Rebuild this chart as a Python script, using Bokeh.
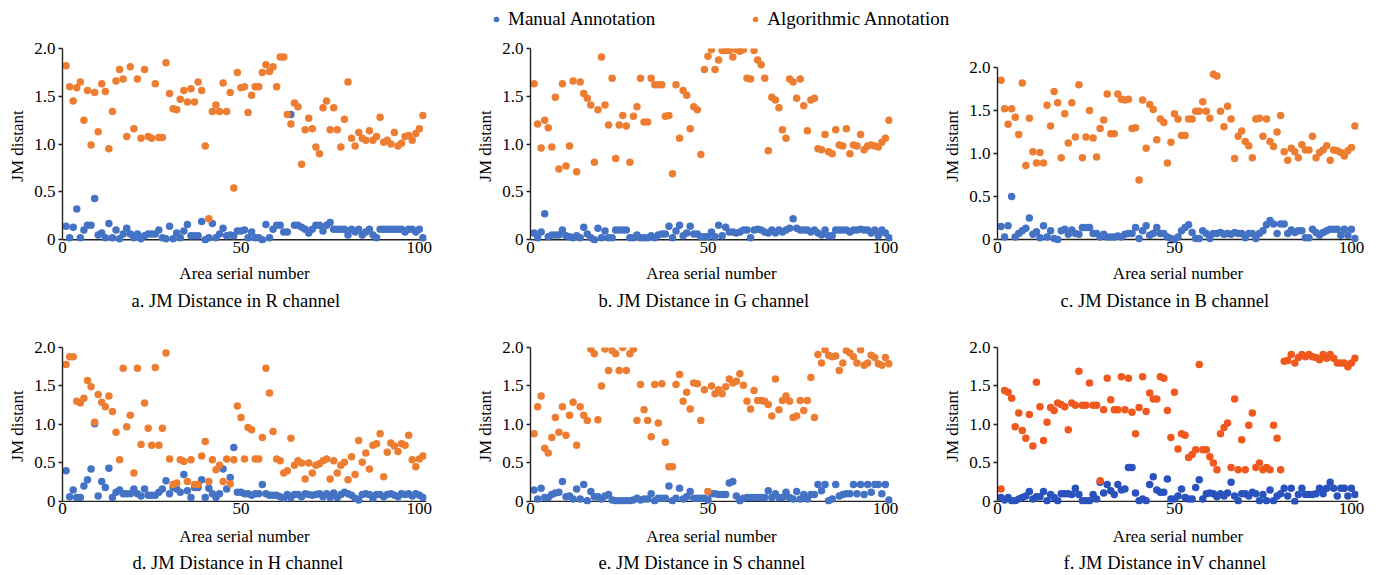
from bokeh.plotting import figure
from bokeh.layouts import column, row
from bokeh.models import Range1d, Legend, LegendItem, FixedTicker, Span
from bokeh.embed import file_html
from bokeh.resources import INLINE

# ---------------- data ----------------
a_orange = [1.82,1.60,1.45,1.59,1.65,1.25,1.56,0.99,1.54,1.13,
            1.63,1.55,0.95,1.34,1.66,1.78,1.68,1.08,1.81,1.16,
            1.68,1.06,1.78,1.08,1.06,1.63,1.07,1.07,1.85,1.53,
            1.37,1.36,1.47,1.56,1.44,1.58,1.44,1.65,1.56,0.98,
            0.22,1.34,1.41,1.34,1.64,1.34,1.54,0.54,1.75,1.59,
            1.60,1.33,1.51,1.60,1.60,1.75,1.83,1.76,1.81,1.60,
            1.91,1.91,1.31,1.21,1.43,1.39,0.79,1.15,1.27,1.16,
            0.97,0.90,1.38,1.45,1.15,1.38,1.15,0.97,1.26,1.65,
            1.06,0.98,1.12,1.06,1.04,1.14,1.04,1.08,1.28,1.02,
            1.04,1.00,1.12,0.98,1.01,1.08,1.09,1.04,1.11,1.16,
            1.30]
a_blue = [0.14,0.02,0.13,0.32,0.02,0.10,0.15,0.15,0.43,0.05,
          0.07,0.02,0.17,0.02,0.10,0.01,0.06,0.12,0.06,0.02,
          0.06,0.01,0.04,0.06,0.06,0.06,0.10,0.02,0.01,0.14,
          0.01,0.07,0.02,0.09,0.16,0.04,0.04,0.04,0.19,0.00,
          0.02,0.17,0.02,0.06,0.12,0.04,0.05,0.04,0.09,0.09,
          0.10,0.02,
          0.08,0.02,0.02,0.00,0.16,0.02,0.11,0.15,0.15,0.08,
          0.08,1.31,0.15,0.15,0.13,0.11,0.07,0.11,0.15,0.15,
          0.09,0.15,0.18,0.11,0.11,0.11,0.11,0.05,0.11,0.08,
          0.11,0.05,0.08,0.11,0.05,0.02,0.11,0.11,0.11,0.11,
          0.11,0.11,0.11,0.08,0.11,0.11,0.08,0.11,0.02]

b_orange = [1.63,1.21,0.96,1.25,1.17,0.97,1.49,0.74,1.63,0.77,
            0.98,1.66,0.71,1.65,1.53,1.48,1.41,0.81,1.36,1.91,
            1.41,1.20,1.69,0.85,1.20,1.30,1.19,0.81,1.29,1.39,
            1.69,1.23,1.23,1.69,1.62,1.62,1.62,1.29,1.30,0.69,
            1.62,1.06,1.56,1.51,1.16,1.39,1.36,0.89,1.78,1.92,
            1.99,1.78,1.88,
            1.98,1.98,1.98,1.91,1.99,1.97,1.99,1.69,1.68,1.98,
            1.88,1.83,1.69,0.93,1.49,1.46,1.38,1.15,1.06,1.68,
            1.65,1.48,1.68,1.40,1.14,1.46,1.48,0.95,0.94,1.10,
            0.92,0.90,1.15,0.99,0.98,1.16,0.90,0.99,0.98,1.10,
            0.94,0.98,0.99,0.98,0.97,1.02,1.06,1.25]
b_blue = [0.07,0.02,0.08,0.27,0.03,0.05,0.05,0.05,0.10,0.04,
          0.03,0.02,0.04,0.02,0.13,0.06,0.02,0.00,0.12,0.02,
          0.09,0.02,0.02,0.10,0.10,0.10,0.10,0.02,0.02,0.05,
          0.02,0.02,0.02,0.04,0.02,0.05,0.06,0.06,0.14,0.02,
          0.09,0.15,0.04,0.07,0.14,0.06,0.06,0.03,0.03,0.03,
          0.08,0.03,0.15,
          0.04,0.13,0.08,0.08,0.07,0.08,0.10,0.10,0.02,0.10,
          0.11,0.10,0.08,0.07,0.10,0.07,0.10,0.08,0.10,0.12,
          0.22,0.12,0.10,0.10,0.10,0.08,0.10,0.07,0.05,0.10,
          0.04,0.04,0.10,0.10,0.10,0.10,0.08,0.10,0.10,0.11,
          0.10,0.10,0.07,0.10,0.04,0.10,0.07,0.02]

c_orange = [1.85,1.52,1.34,1.52,1.42,1.22,1.82,0.86,1.41,1.02,
            0.89,1.01,0.89,1.56,1.32,1.72,1.59,0.95,1.46,1.12,
            1.59,1.19,1.80,0.95,1.19,1.50,1.18,0.96,1.29,1.39,
            1.69,1.23,1.23,1.69,1.63,1.62,1.63,1.29,1.30,0.69,
            1.62,1.06,1.57,1.51,1.16,1.40,1.36,0.89,1.13,1.46,
            1.40,1.21,
            1.21,1.40,1.40,1.49,1.49,1.60,1.49,1.41,1.92,1.90,
            1.49,1.31,1.55,1.40,0.94,1.20,1.26,1.14,1.09,0.95,
            1.40,1.41,1.20,1.40,1.14,1.08,1.25,1.44,1.02,0.92,
            1.06,1.02,0.95,1.10,1.04,1.04,1.20,0.95,1.01,1.04,
            1.09,0.92,1.04,1.03,1.01,0.97,1.03,1.07,1.32]
c_blue = [0.15,0.03,0.16,0.50,0.03,0.07,0.10,0.13,0.25,0.06,
          0.09,0.02,0.16,0.03,0.10,0.01,0.00,0.10,0.12,0.06,
          0.11,0.07,0.06,0.14,0.14,0.14,0.07,0.07,0.03,0.06,
          0.03,0.03,0.03,0.04,0.03,0.06,0.07,0.07,0.14,0.01,
          0.10,0.16,0.05,0.07,0.14,0.07,0.07,0.03,0.01,0.00,
          0.03,0.10,
          0.14,0.17,0.08,0.01,0.01,0.10,0.07,0.01,0.07,0.07,
          0.08,0.06,0.07,0.06,0.08,0.07,0.07,0.02,0.07,0.07,
          0.01,0.07,0.10,0.17,0.22,0.18,0.07,0.18,0.18,0.07,
          0.11,0.08,0.10,0.10,0.02,0.02,0.12,0.08,0.05,0.08,
          0.10,0.12,0.12,0.12,0.05,0.12,0.05,0.12,0.01]

d_orange = [1.78,1.88,1.88,1.30,1.28,1.34,1.57,1.49,1.03,1.39,
            1.29,1.23,1.37,1.17,0.90,0.54,1.73,0.97,1.12,0.37,
            1.73,0.74,1.28,0.95,0.73,1.74,0.73,0.95,1.93,0.55,
            0.22,0.24,0.54,0.52,0.26,0.54,0.22,0.22,0.59,0.78,
            0.26,0.54,0.41,0.47,0.26,0.55,0.23,0.54,1.24,1.09,
            0.55,0.96,0.93,0.55,0.55,0.83,1.73,1.41,0.91,0.55,
            0.53,0.37,0.40,0.82,0.47,0.53,0.50,0.29,0.50,0.37,
            0.47,0.49,0.53,0.55,0.29,0.53,0.37,0.47,0.51,0.28,
            0.58,0.35,0.79,0.51,0.63,0.42,0.73,0.75,0.88,0.32,
            0.64,0.76,0.72,0.65,0.75,0.73,0.86,0.54,0.45,0.55,
            0.59]
d_blue = [0.40,0.06,0.15,0.05,0.05,0.20,0.28,0.42,1.01,0.07,
          0.26,0.18,0.43,0.05,0.12,0.15,0.10,0.10,0.10,0.16,
          0.10,0.07,0.16,0.08,0.08,0.08,0.12,0.16,0.27,0.10,
          0.18,0.16,0.12,0.35,0.14,0.05,0.18,0.18,0.28,0.05,
          0.17,0.10,0.05,0.10,0.42,0.16,0.31,0.70,0.12,0.12,
          0.10,
          0.10,0.08,0.10,0.10,0.22,0.10,0.08,0.08,0.08,0.06,
          0.04,0.09,0.05,0.09,0.09,0.06,0.10,0.09,0.08,0.09,
          0.10,0.06,0.10,0.05,0.11,0.05,0.09,0.12,0.10,0.08,
          0.04,0.02,0.09,0.10,0.09,0.04,0.09,0.09,0.06,0.09,
          0.10,0.08,0.06,0.10,0.09,0.10,0.07,0.10,0.08,0.05]

e_orange = [0.88,1.23,1.37,0.69,0.63,0.83,1.09,0.90,1.23,0.86,
            1.12,1.29,0.73,1.23,1.12,1.05,1.98,1.92,1.06,1.50,
            1.98,1.70,1.96,1.92,1.70,2.00,1.70,1.92,1.98,1.05,
            1.52,1.19,1.05,0.84,1.52,1.02,1.53,0.77,0.45,0.45,
            1.52,1.65,1.30,1.42,1.20,1.54,1.53,1.05,1.45,0.13,
            1.50,1.40,1.45,
            1.40,1.49,1.59,1.54,1.56,1.66,1.51,1.30,1.20,1.44,
            1.31,1.31,1.30,1.26,1.11,1.59,1.19,1.31,1.37,1.30,
            1.09,1.11,1.31,1.18,1.31,1.61,1.09,1.91,1.80,1.97,
            1.90,1.88,1.89,1.70,1.80,1.96,1.93,1.88,1.80,1.97,
            1.77,1.80,1.90,1.87,1.79,1.77,1.87,1.79]
e_blue = [0.15,0.03,0.17,0.05,0.05,0.09,0.11,0.12,0.26,0.06,
          0.07,0.03,0.16,0.03,0.22,0.01,0.13,0.06,0.06,0.03,
          0.07,0.09,0.02,0.01,0.01,0.01,0.01,0.01,0.02,0.04,
          0.02,0.03,0.03,0.10,0.01,0.04,0.04,0.04,0.20,0.01,
          0.04,0.17,0.03,0.06,0.13,0.04,0.04,0.04,0.04,0.02,
          0.10,0.10,
          0.09,0.09,0.09,0.24,0.26,0.07,0.01,0.04,0.05,0.05,
          0.05,0.05,0.05,0.05,0.14,0.05,0.10,0.05,0.05,0.12,
          0.05,0.03,0.13,0.03,0.09,0.03,0.09,0.09,0.22,0.14,
          0.22,0.01,0.03,0.22,0.07,0.09,0.10,0.10,0.22,0.10,
          0.22,0.09,0.22,0.12,0.22,0.22,0.10,0.22,0.02]

f_orange = [0.16,1.44,1.42,1.34,0.97,1.15,0.92,0.82,1.13,0.72,
            1.55,1.23,0.79,1.03,1.22,1.18,1.28,1.26,1.23,0.93,
            1.28,1.25,1.69,1.25,1.25,1.54,1.25,1.25,0.27,1.19,
            1.60,1.32,1.19,1.19,1.62,1.19,1.60,1.16,0.88,1.22,
            1.62,1.17,1.41,1.33,1.33,1.62,1.60,1.18,0.83,1.42,
            0.68,0.88,
            0.86,0.57,0.61,0.67,1.78,0.67,0.67,0.58,0.50,0.41,
            0.88,0.96,1.02,0.44,1.33,0.41,0.80,0.41,0.99,1.15,
            0.44,0.50,0.41,0.44,0.41,0.99,0.82,0.41,1.82,1.83,
            1.91,1.80,1.87,1.91,1.88,1.91,1.88,1.87,1.84,1.91,
            1.86,1.91,1.86,1.80,1.80,1.80,1.75,1.80,1.86]
f_blue = [0.05,0.02,0.05,0.01,0.01,0.03,0.05,0.07,0.13,0.03,
          0.06,0.06,0.13,0.01,0.09,0.05,0.01,0.10,0.10,0.10,
          0.09,0.17,0.09,0.01,0.01,0.01,0.09,0.03,0.25,0.11,
          0.22,0.14,0.09,0.22,0.15,0.16,0.44,0.44,0.11,0.01,
          0.03,0.01,0.22,0.32,0.15,0.12,0.12,0.29,0.03,0.03,
          0.07,0.16,
          0.05,0.03,0.03,0.18,0.28,0.03,0.10,0.11,0.10,0.06,
          0.10,0.07,0.11,0.25,0.07,0.01,0.10,0.10,0.07,0.12,
          0.10,0.01,0.09,0.01,0.15,0.01,0.07,0.10,0.17,0.07,
          0.17,0.00,0.09,0.17,0.09,0.09,0.09,0.10,0.17,0.10,
          0.17,0.25,0.17,0.07,0.17,0.17,0.07,0.17,0.09]

captions = ["a. JM Distance in R channel", "b. JM Distance in G channel",
            "c. JM Distance in B channel", "d. JM Distance in H channel",
            "e. JM Distance in S channel", "f. JM Distance inV channel"]
series_names = ["Manual Annotation", "Algorithmic Annotation"]
y_ticks = [0, 0.5, 1.0, 1.5, 2.0]
y_tick_labels = ["0", "0.5", "1.0", "1.5", "2.0"]
x_ticks = [0, 50, 100]

# ---------------- style ----------------
FONT = "Liberation Serif"
BLUE = "#4472C4"
ORANGE = "#ED7D31"
BLUE_F = "#2A52BE"
ORANGE_F = "#F0581E"
AXIS_C = "#222222"


def panel(blue, orange, caption, width, height, bl, br, bt, bb, title_off,
          label_gap, title_gap, y_lo=-0.04, y_hi=2.0, cb=BLUE, co=ORANGE):
    p = figure(width=width, height=height, output_backend="svg",
               toolbar_location=None, x_range=Range1d(0, 102),
               y_range=Range1d(y_lo, y_hi),
               min_border_left=bl, min_border_right=br,
               min_border_top=bt, min_border_bottom=bb)
    p.outline_line_color = None
    p.grid.visible = False
    p.add_layout(Span(location=0, dimension="width", line_color=AXIS_C,
                      line_width=1.4, level="underlay"))
    xs_b = list(range(1, len(blue) + 1))
    xs_o = list(range(1, len(orange) + 1))
    p.scatter(xs_b, blue, size=7.5, color=cb, line_color=None)
    p.scatter(xs_o, orange, size=7.5, color=co, line_color=None)

    xa = p.xaxis[0]
    xa.ticker = FixedTicker(ticks=x_ticks)
    xa.major_tick_out = 0
    xa.major_tick_in = 0
    xa.minor_tick_out = 0
    xa.minor_tick_in = 0
    xa.axis_line_color = None
    xa.major_label_text_font = FONT
    xa.major_label_text_font_size = "17px"
    xa.major_label_text_color = "black"
    xa.major_label_standoff = -2
    xa.axis_label = "Area serial number"
    xa.axis_label_text_font = FONT
    xa.axis_label_text_font_size = "17px"
    xa.axis_label_text_font_style = "normal"
    xa.axis_label_text_color = "black"
    xa.axis_label_standoff = label_gap

    ya = p.yaxis[0]
    ya.bounds = (0, 2)
    ya.ticker = FixedTicker(ticks=y_ticks)
    ya.major_label_overrides = {t: s for t, s in zip(y_ticks, y_tick_labels)}
    ya.major_tick_out = 4
    ya.major_tick_in = 0
    ya.minor_tick_out = 0
    ya.minor_tick_in = 0
    ya.major_tick_line_color = AXIS_C
    ya.major_tick_line_width = 1.4
    ya.axis_line_color = AXIS_C
    ya.axis_line_width = 1.4
    ya.major_label_text_font = FONT
    ya.major_label_text_font_size = "17px"
    ya.major_label_text_color = "black"
    ya.major_label_standoff = 3
    ya.axis_label = "JM distant"
    ya.axis_label_text_font = FONT
    ya.axis_label_text_font_size = "17px"
    ya.axis_label_text_font_style = "normal"
    ya.axis_label_text_color = "black"
    ya.axis_label_standoff = 4

    p.title_location = "below"
    p.title.text = caption
    p.title.align = "left"
    p.title.offset = title_off
    p.title.text_font = FONT
    p.title.text_font_size = "18.5px"
    p.title.text_font_style = "normal"
    p.title.text_color = "black"
    p.title.standoff = title_gap
    return p


pa = panel(a_blue, a_orange, captions[0], 465, 295, 62, 39, 13, 87, 69, 8, 6)
pb = panel(b_blue, b_orange, captions[1], 465, 295, 65, 38, 13, 87, 68, 8, 6)
pc = panel(c_blue, c_orange, captions[2], 457, 295, 67, 29, 13, 87, 63, 8, 6,
           y_lo=-0.047, y_hi=2.22)
pd = panel(d_blue, d_orange, captions[3], 465, 245, 62, 39, 17, 71, 70, 10, 4)
pe = panel(e_blue, e_orange, captions[4], 465, 245, 65, 38, 17, 71, 68, 10, 4)
pf = panel(f_blue, f_orange, captions[5], 457, 245, 67, 29, 17, 71, 66, 10, 4,
           cb=BLUE_F, co=ORANGE_F)

# legend strip (series drawn outside the visible range; only the legend shows)
pl = figure(width=1387, height=35, output_backend="svg", toolbar_location=None,
            x_range=Range1d(0, 1), y_range=Range1d(50, 51),
            x_axis_type=None, y_axis_type=None, min_border=0)
pl.outline_line_color = None
pl.grid.visible = False
rb = pl.scatter(x=list(range(1, len(a_blue) + 1)), y=a_blue, size=8,
                color=BLUE, line_color=None)
ro = pl.scatter(x=list(range(1, len(a_orange) + 1)), y=a_orange, size=8,
                color=ORANGE, line_color=None)
leg = Legend(items=[LegendItem(label=series_names[0], renderers=[rb]),
                    LegendItem(label=series_names[1], renderers=[ro])],
             orientation="horizontal", location=(489, 5),
             glyph_width=14, glyph_height=20, label_standoff=5, spacing=93,
             padding=0, margin=0, border_line_color=None,
             background_fill_alpha=0,
             label_text_font=FONT, label_text_font_size="19px",
             label_text_color="black")
pl.add_layout(leg, "center")

layout = column(pl, row(pa, pb, pc), row(pd, pe, pf), spacing=0)

open("out.html", "w").write(file_html(layout, INLINE))
